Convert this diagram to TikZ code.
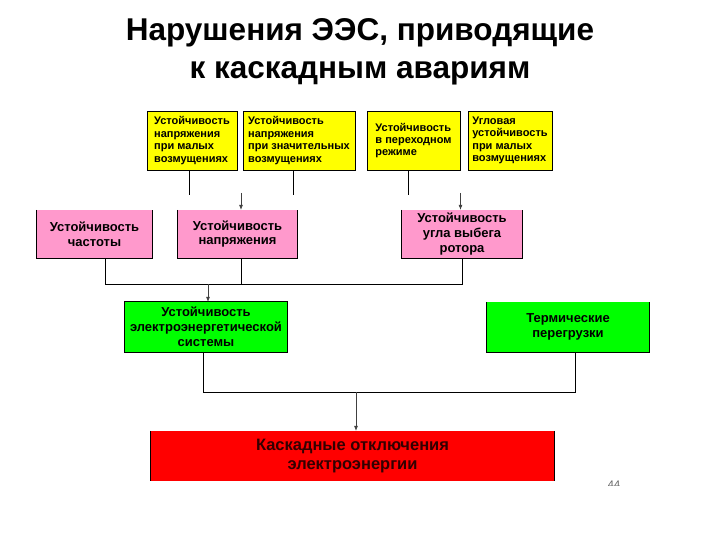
\documentclass[tikz,border=0pt]{standalone}
\usepackage{fontspec}
\setmainfont{Liberation Sans}
\usetikzlibrary{arrows.meta}
\definecolor{ypal}{RGB}{255,255,0}
\definecolor{ppink}{RGB}{255,153,204}
\definecolor{pgreen}{RGB}{0,255,0}
\definecolor{pred}{RGB}{255,0,0}
\begin{document}
\begin{tikzpicture}[x=1pt,y=-1pt,
 ybox/.style={fill=ypal,draw=black,line width=0.9pt,minimum height=59pt,inner sep=0pt,align=left,font=\bfseries\fontsize{11}{12.4}\selectfont},
 pbox/.style={fill=ppink,minimum height=48pt,inner sep=0pt,align=center,font=\bfseries\fontsize{13}{14.8}\selectfont},
 gbox/.style={fill=pgreen,minimum height=50pt,inner sep=0pt,align=center,font=\bfseries\fontsize{13}{15}\selectfont},
 rbox/.style={fill=pred,minimum height=50pt,inner sep=0pt,align=center,font=\bfseries\fontsize{16.5}{18.5}\selectfont,text={rgb,255:red,50;green,0;blue,0}},
 wire/.style={draw=black,line width=0.9pt},
 stub/.style={-{Latex[length=5pt,width=4pt]},line width=0.6pt,draw=black!75},
 titletext/.style={font=\bfseries\fontsize{31.5}{36}\selectfont}]
\useasboundingbox[fill=white] (0,0) rectangle (720,540);

% title
\node[titletext] (t1) at (360,33) {Нарушения ЭЭС, приводящие};
\node[titletext] (t2) at (360,73) {к каскадным авариям};

% yellow boxes
\node[ybox,minimum width=90pt] (Y1) at (192,140.5) {Устойчивость\\напряжения\\при малых\\возмущениях};
\node[ybox,minimum width=112pt] (Y2) at (299,140.5) {Устойчивость\\напряжения\\при значительных\\возмущениях};
\node[ybox,minimum width=93pt] (Y3) at (413.5,140.5) {Устойчивость\\в переходном\\режиме};
\node[ybox,minimum width=84pt] (Y4) at (510,140.5) {Угловая\\устойчивость\\при малых\\возмущениях};

% pink boxes
\node[pbox,minimum width=115pt] (P1) at (94.5,234) {Устойчивость\\частоты};
\node[pbox,minimum width=119pt] (P2) at (237.5,234) {Устойчивость\\напряжения};
\node[pbox,minimum width=120pt] (P3) at (462,234) {Устойчивость\\угла выбега\\ротора};
\foreach \n in {P1,P2,P3}
  \draw[wire] (\n.north west) -- (\n.south west) -- (\n.south east) -- (\n.north east);

% green boxes
\node[gbox,minimum width=162pt] (G1) at (206,327) {Устойчивость\\электроэнергетической\\системы};
\node[gbox,minimum width=162pt] (G2) at (568,327) {Термические\\перегрузки};
\draw[wire] (G1.north west) rectangle (G1.south east);
\draw[wire] (G2.north west) -- (G2.south west) -- (G2.south east) -- (G2.north east);

% red box
\node[rbox,minimum width=403pt] (R) at (352.5,456) {Каскадные отключения\\электроэнергии};
\draw[wire] (R.north west) -- (R.south west);
\draw[wire] (R.north east) -- (R.south east);

% top connectors
\coordinate (y1e) at (189,195);
\coordinate (y2e) at (293,195);
\coordinate (y3e) at (408,195);
\draw[wire] (Y1.south -| y1e) -- (y1e);
\draw[wire] (Y2.south -| y2e) -- (y2e);
\draw[wire] (Y3.south -| y3e) -- (y3e);
\coordinate (a2) at (241,193);
\coordinate (a3) at (460.5,193);
\draw[stub] (a2) -- (a2 |- P2.north);
\draw[stub] (a3) -- (a3 |- P3.north);

% middle connectors
\coordinate (m1) at (105,284);
\coordinate (m2) at (241,284);
\coordinate (m3) at (462,284);
\coordinate (m0) at (208,284);
\draw[wire] (P1.south -| m1) -- (m1) -- (m3) -- (P3.south -| m3);
\draw[wire] (P2.south -| m2) -- (m2);
\draw[stub] (m0) -- (m0 |- G1.north);

% bottom connectors
\coordinate (b1) at (203,392);
\coordinate (b2) at (575,392);
\coordinate (b0) at (356,392);
\draw[wire] (G1.south -| b1) -- (b1) -- (b2) -- (G2.south -| b2);
\draw[stub] (b0) -- (b0 |- R.north);

% page number (cut off)
\begin{scope}
\clip (600,470) rectangle (630,485);
\node[font=\fontsize{11}{11}\selectfont,text=black!60] (pg) at (614,485) {44};
\end{scope}
\end{tikzpicture}
\end{document}
